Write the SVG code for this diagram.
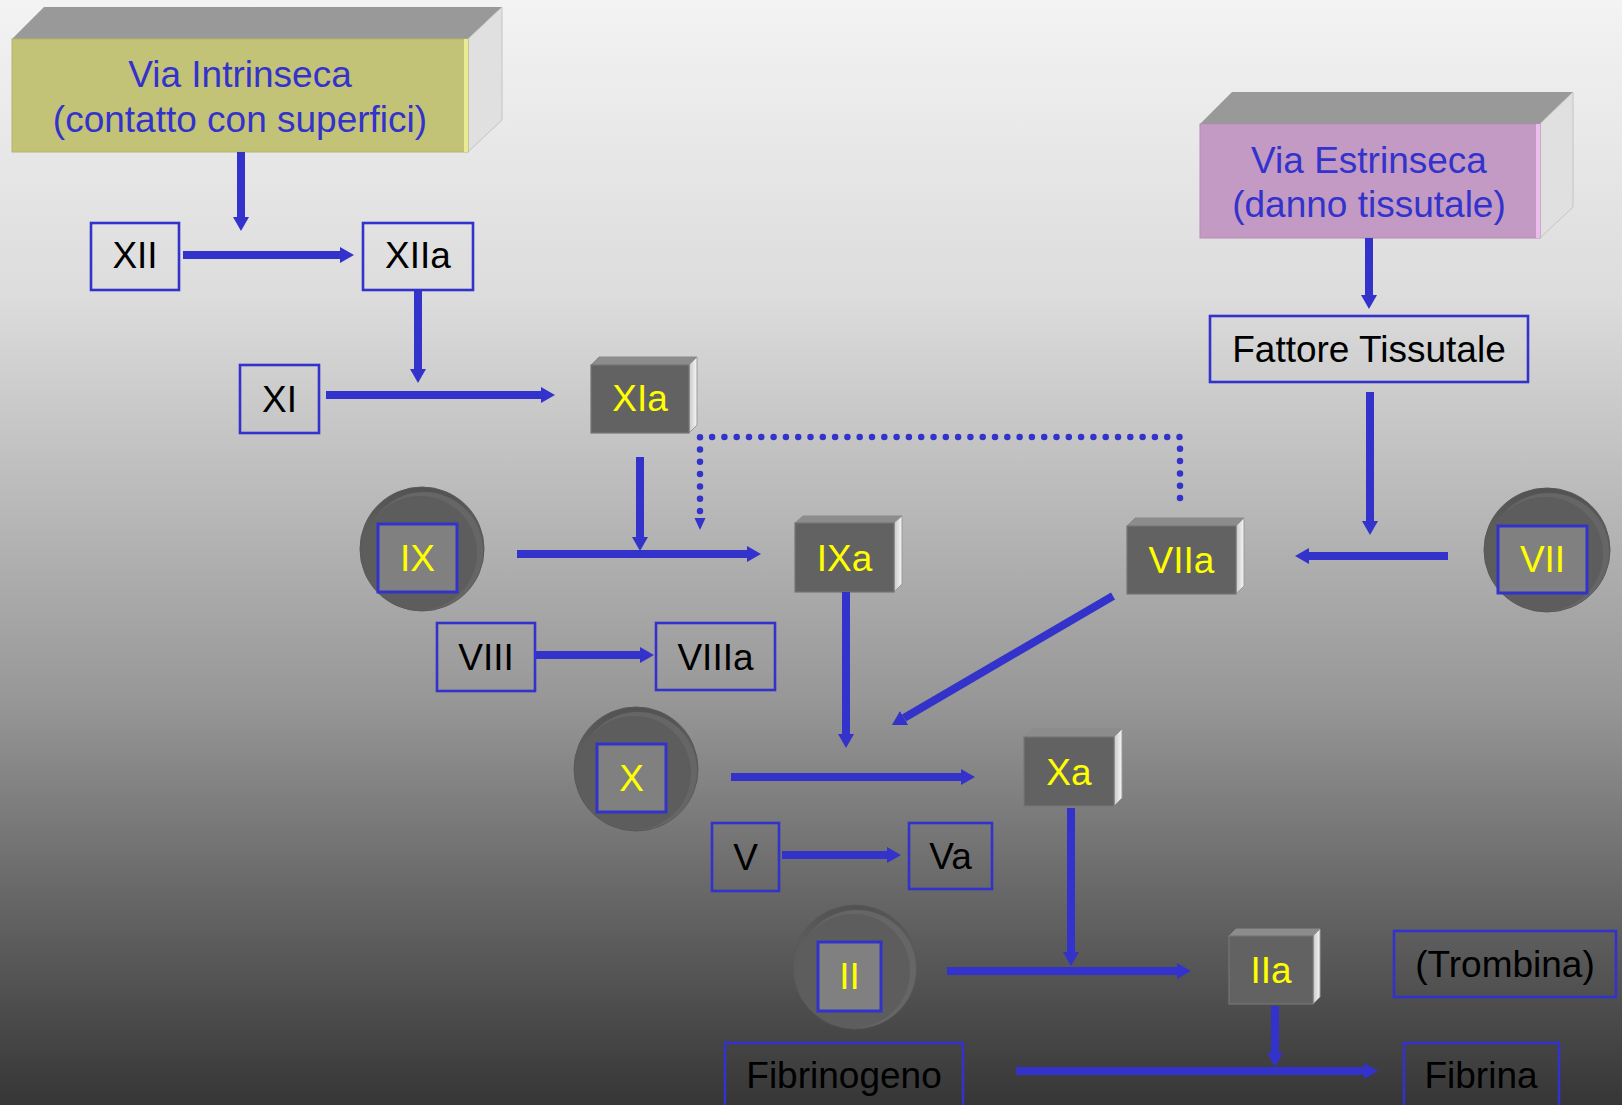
<svg xmlns="http://www.w3.org/2000/svg" width="1622" height="1105" viewBox="0 0 1622 1105">
  <defs>
    <linearGradient id="bg" x1="0" y1="0" x2="0" y2="1">
      <stop offset="0" stop-color="#f3f3f3"/>
      <stop offset="0.27" stop-color="#dcdcdc"/>
      <stop offset="0.634" stop-color="#979797"/>
      <stop offset="0.814" stop-color="#666666"/>
      <stop offset="1" stop-color="#363636"/>
    </linearGradient>
    <linearGradient id="sideLight" x1="0" y1="0" x2="1" y2="0">
      <stop offset="0" stop-color="#c8c8c8"/>
      <stop offset="1" stop-color="#f6f6f6"/>
    </linearGradient>
    <linearGradient id="diskBody" x1="0" y1="0" x2="0" y2="1">
      <stop offset="0" stop-color="#525252"/>
      <stop offset="0.3" stop-color="#5c5c5c"/>
      <stop offset="1" stop-color="#5e5e5e"/>
    </linearGradient>
    <marker id="ah" markerUnits="userSpaceOnUse" markerWidth="14" markerHeight="16" refX="0" refY="8" orient="auto" viewBox="0 0 14 16">
      <path d="M0,0 L14,8 L0,16 z" fill="#3333cc"/>
    </marker>
    <style>
      .lbl { font-family: "Liberation Sans", Arial, sans-serif; font-size: 37px; text-anchor: middle; }
      .dark { fill: #000; }
      .yel { fill: #ffff00; }
      .head { font-family: "Liberation Sans", Arial, sans-serif; font-size: 37px; text-anchor: middle; fill: #3333cc; }
      .box { fill: none; stroke: #3333cc; stroke-width: 2.6; }
      .inner { fill: #808080; stroke: #3333cc; stroke-width: 3; }
      .front { fill: #626262; stroke: #767676; stroke-width: 1.2; }
      .top { fill: #8c8c8c; stroke: #8a8a8a; stroke-width: 1; }
      .side { fill: url(#sideLight); stroke: #9a9a9a; stroke-width: 1; }
      .disk { fill: url(#diskBody); stroke: #585858; stroke-width: 1; }
      .rim { fill: #666666; }
      .face { fill: #5d5d5d; }
      .conn { stroke: #3333cc; stroke-width: 8; fill: none; marker-end: url(#ah); }
      .dots { stroke: #3333cc; stroke-width: 6.5; fill: none; stroke-linecap: round; stroke-dasharray: 0 12.3; }
    </style>
  </defs>

  <rect x="0" y="0" width="1622" height="1105" fill="url(#bg)"/>

  <!-- pathway headers (3D slabs) -->
  <g id="via-intrinseca">
    <polygon points="12,39 44,7 502,7 468,39" fill="#999999"/>
    <polygon points="468,39 502,7 502,120 468,152" fill="#e0e0e0" stroke="#c4c4c4" stroke-width="1"/>
    <rect x="12" y="39" width="456" height="113" fill="#c3c378" stroke="#b4b46c" stroke-width="1"/>
    <rect x="464" y="39" width="4" height="113" fill="#eaea92"/>
    <text class="head" x="240" y="87">Via Intrinseca</text>
    <text class="head" x="240" y="132">(contatto con superfici)</text>
  </g>

  <g id="via-estrinseca">
    <polygon points="1200,124 1232,92 1573,92 1540,124" fill="#999999"/>
    <polygon points="1540,124 1573,92 1573,207 1540,238" fill="#e0e0e0" stroke="#c4c4c4" stroke-width="1"/>
    <rect x="1200" y="124" width="340" height="114" fill="#c29ac3" stroke="#b38cb4" stroke-width="1"/>
    <rect x="1536" y="124" width="4" height="114" fill="#ecbcec"/>
    <text class="head" x="1369" y="173">Via Estrinseca</text>
    <text class="head" x="1369" y="217">(danno tissutale)</text>
  </g>

  <!-- plain factor boxes -->
  <g id="xii">
    <rect class="box" x="91" y="223" width="88" height="67"/>
    <text class="lbl dark" x="135" y="268">XII</text>
  </g>
  <g id="xiia">
    <rect class="box" x="363" y="223" width="110" height="67"/>
    <text class="lbl dark" x="418" y="268">XIIa</text>
  </g>
  <g id="xi">
    <rect class="box" x="240" y="365" width="79" height="68"/>
    <text class="lbl dark" x="279.5" y="412">XI</text>
  </g>
  <g id="fattore-tissutale">
    <rect class="box" x="1210" y="316" width="318" height="66"/>
    <text class="lbl dark" x="1369" y="362">Fattore Tissutale</text>
  </g>
  <g id="viii">
    <rect class="box" x="437" y="623" width="98" height="68"/>
    <text class="lbl dark" x="486" y="670">VIII</text>
  </g>
  <g id="viiia">
    <rect class="box" x="656" y="623" width="119" height="67"/>
    <text class="lbl dark" x="715.5" y="670">VIIIa</text>
  </g>
  <g id="v">
    <rect class="box" x="712" y="823" width="67" height="68"/>
    <text class="lbl dark" x="745.5" y="870">V</text>
  </g>
  <g id="va">
    <rect class="box" x="909" y="823" width="83" height="66"/>
    <text class="lbl dark" x="950.5" y="869">Va</text>
  </g>
  <g id="trombina">
    <rect class="box" x="1394" y="931" width="222" height="66"/>
    <text class="lbl dark" x="1505" y="977">(Trombina)</text>
  </g>
  <g id="fibrinogeno">
    <rect class="box" x="725" y="1043" width="238" height="70"/>
    <text class="lbl dark" x="844" y="1088">Fibrinogeno</text>
  </g>
  <g id="fibrina">
    <rect class="box" x="1404" y="1043" width="155" height="70"/>
    <text class="lbl dark" x="1481" y="1088">Fibrina</text>
  </g>

  <!-- zymogens on disks -->
  <g id="ix">
    <circle class="disk" cx="422" cy="549" r="62"/>
    <circle class="rim" cx="424" cy="551" r="59"/>
    <circle class="face" cx="420" cy="553" r="57"/>
    <rect class="inner" x="378" y="524" width="79" height="68"/>
    <text class="lbl yel" x="417.5" y="571">IX</text>
  </g>
  <g id="vii">
    <ellipse class="disk" cx="1547" cy="550" rx="63" ry="62"/>
    <ellipse class="rim" cx="1549" cy="552" rx="60" ry="59"/>
    <ellipse class="face" cx="1545" cy="554" rx="58" ry="57"/>
    <rect class="inner" x="1498" y="526" width="89" height="67"/>
    <text class="lbl yel" x="1542.5" y="572">VII</text>
  </g>
  <g id="x">
    <circle class="disk" cx="636" cy="769" r="62"/>
    <circle class="rim" cx="638" cy="771" r="59"/>
    <circle class="face" cx="634" cy="773" r="57"/>
    <rect class="inner" x="597" y="744" width="69" height="68"/>
    <text class="lbl yel" x="631.5" y="791">X</text>
  </g>
  <g id="ii">
    <circle class="disk" cx="855" cy="967" r="62"/>
    <circle class="rim" cx="857" cy="969" r="59"/>
    <circle class="face" cx="853" cy="971" r="57"/>
    <rect class="inner" x="818" y="942" width="63" height="69"/>
    <text class="lbl yel" x="849.5" y="989">II</text>
  </g>

  <!-- activated factors (3D blocks) -->
  <g id="xia">
    <polygon class="top" points="591,365 599,357 697,357 689,365"/>
    <polygon class="side" points="689,365 697,357 697,425 689,433"/>
    <rect class="front" x="591" y="365" width="98" height="68"/>
    <text class="lbl yel" x="640" y="411">XIa</text>
  </g>
  <g id="ixa">
    <polygon class="top" points="795,523 803,516 902,516 894,523"/>
    <polygon class="side" points="894,523 902,516 902,584 894,592"/>
    <rect class="front" x="795" y="523" width="99" height="69"/>
    <text class="lbl yel" x="844.5" y="571">IXa</text>
  </g>
  <g id="viia">
    <polygon class="top" points="1127,526 1135,518 1244,518 1236,526"/>
    <polygon class="side" points="1236,526 1244,518 1244,586 1236,594"/>
    <rect class="front" x="1127" y="526" width="109" height="68"/>
    <text class="lbl yel" x="1181.5" y="573">VIIa</text>
  </g>
  <g id="xa">
    <polygon class="top" points="1024,737 1032,729 1122,729 1114,737"/>
    <polygon class="side" points="1114,737 1122,729 1122,798 1114,806"/>
    <rect class="front" x="1024" y="737" width="90" height="69"/>
    <text class="lbl yel" x="1069" y="785">Xa</text>
  </g>
  <g id="iia">
    <polygon class="top" points="1229,936 1236,929 1320,929 1313,936"/>
    <polygon class="side" points="1313,936 1320,929 1320,997 1313,1004"/>
    <rect class="front" x="1229" y="936" width="84" height="68"/>
    <text class="lbl yel" x="1271" y="983">IIa</text>
  </g>

  <!-- connectors -->
  <g id="connectors">
    <line class="conn" x1="241" y1="152" x2="241" y2="217"/>
    <line class="conn" x1="183" y1="255" x2="340" y2="255"/>
    <line class="conn" x1="418" y1="290" x2="418" y2="369"/>
    <line class="conn" x1="326" y1="395" x2="541" y2="395"/>
    <line class="conn" x1="640" y1="457" x2="640" y2="537"/>
    <line class="conn" x1="517" y1="554" x2="747" y2="554"/>
    <line class="conn" x1="535" y1="655" x2="640" y2="655"/>
    <line class="conn" x1="846" y1="592" x2="846" y2="734"/>
    <line class="conn" x1="1369" y1="238" x2="1369" y2="295"/>
    <line class="conn" x1="1370" y1="392" x2="1370" y2="521"/>
    <line class="conn" x1="1448" y1="556" x2="1309" y2="556"/>
    <line class="conn" x1="1113" y1="596" x2="904" y2="718"/>
    <line class="conn" x1="731" y1="777" x2="961" y2="777"/>
    <line class="conn" x1="782" y1="855" x2="887" y2="855"/>
    <line class="conn" x1="1071" y1="808" x2="1071" y2="952"/>
    <line class="conn" x1="947" y1="971" x2="1177" y2="971"/>
    <line class="conn" x1="1275" y1="1006" x2="1275" y2="1053"/>
    <line class="conn" x1="1016" y1="1071" x2="1364" y2="1071"/>
    <!-- VIIa feedback onto IX activation -->
    <path class="dots" d="M700,511 V437 H1180 V500"/>
    <polygon points="694.5,518 705.5,518 700,530" fill="#3333cc"/>
  </g>
</svg>
